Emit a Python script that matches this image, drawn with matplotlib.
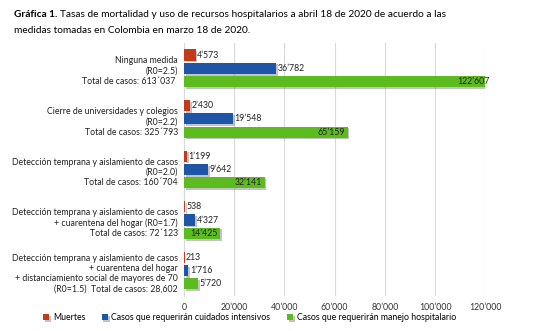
import matplotlib.pyplot as plt
import matplotlib.patheffects as pe
import numpy as np
from matplotlib.ticker import FuncFormatter

plt.rcParams['font.family'] = ['Lato', 'DejaVu Sans']

# Scenarios (top to bottom)
scenarios = [
    "Ninguna medida\n(R0=2.5)\nTotal de casos: 613´037 ",
    "Cierre de universidades y colegios\n(R0=2.2)\nTotal de casos: 325´793",
    "Detección temprana y aislamiento de casos\n(R0=2.0)\nTotal de casos: 160´704",
    "Detección temprana y aislamiento de casos\n+ cuarentena del hogar (R0=1.7)\nTotal de casos: 72´123",
    "Detección temprana y aislamiento de casos\n+ cuarentena del hogar\n+ distanciamiento social de mayores de 70\n(R0=1.5)  Total de casos: 28,602",
]
muertes = [4573, 2430, 1199, 538, 213]
uci = [36782, 19548, 9642, 4327, 1716]
hospital = [122607, 65159, 32141, 14425, 5720]

series_names = ["Muertes", "Casos que requerirán cuidados intensivos",
                "Casos que requerirán manejo hospitalario"]
colors = ["#C23A1A", "#1F55A6", "#5CBB1E"]
x_ticks = [0, 20000, 40000, 60000, 80000, 100000, 120000]

FS = 6.3
TITLE_FS = 7.3


def fmt(v):
    return f"{int(v):,}".replace(",", "’")


fig = plt.figure(figsize=(5.51, 3.31), dpi=100)
ax = fig.add_axes([0.334, 0.106, 0.547, 0.764])

y = np.arange(len(scenarios))
offset = 0.263
height = 0.22
shadow = [pe.SimplePatchShadow(offset=(1.2, -1.2), shadow_rgbFace='#888888', alpha=0.5),
          pe.Normal()]

bars = []
for k, (vals, col, name) in enumerate(zip([muertes, uci, hospital], colors, series_names)):
    b = ax.barh(y + (k - 1) * offset, vals, height=height, color=col,
                label=name, zorder=3)
    for r in b:
        r.set_path_effects(shadow)
    bars.append(b)

# value labels: outside for deaths/ICU, inside the end for hospital bars
for k, (b, vals) in enumerate(zip(bars, [muertes, uci, hospital])):
    for r, v in zip(b, vals):
        yc = r.get_y() + r.get_height() / 2
        if k == 2 and v > 10000:
            ax.text(v - 1000, yc, fmt(v), ha='right', va='center',
                    fontsize=FS, color='#222222', zorder=4)
        else:
            ax.text(v + 600, yc, fmt(v), ha='left', va='center',
                    fontsize=FS, color='#222222', zorder=4)

ax.set_xlim(0, 120000)
ax.set_ylim(4.5, -0.5)
ax.set_xticks(x_ticks)
ax.xaxis.set_major_formatter(FuncFormatter(lambda v, p: fmt(v)))
ax.tick_params(axis='x', length=0, pad=5, labelsize=FS, labelcolor='#333333')
ax.grid(axis='x', color='#D9D9D9', linewidth=0.8, zorder=0)
ax.set_yticks(y)
ax.set_yticklabels([])
ax.tick_params(axis='y', length=0)
for side in ['top', 'right', 'bottom']:
    ax.spines[side].set_visible(False)
ax.spines['left'].set_color('#D9D9D9')

# scenario labels, right aligned next to the axis
for yi, label in zip(y, scenarios):
    ax.text(-2400, yi + 0.06, label, ha='right', va='center', ma='right',
            fontsize=FS, color='#222222', linespacing=1.2)

# title: bold prefix followed by the regular text
renderer = fig.canvas.get_renderer()
t_bold = fig.text(0.025, 0.955, "Gráfica 1.", fontsize=TITLE_FS,
                  fontweight='bold', va='center')
bb = t_bold.get_window_extent(renderer)
fig.text((bb.x1 + 3) / fig.bbox.width, 0.955,
         "Tasas de mortalidad y uso de recursos hospitalarios a abril 18 de 2020 de acuerdo a las",
         fontsize=TITLE_FS, va='center')
fig.text(0.025, 0.908, "medidas tomadas en Colombia en marzo 18 de 2020.",
         fontsize=TITLE_FS, va='center')

fig.legend(handles=bars, labels=series_names, loc='center left',
           bbox_to_anchor=(0.072, 0.04), ncol=3, frameon=False,
           fontsize=FS, handlelength=0.7, handleheight=0.7,
           handletextpad=0.4, columnspacing=1.9, borderaxespad=0)

fig.savefig("out.png", dpi=100)
